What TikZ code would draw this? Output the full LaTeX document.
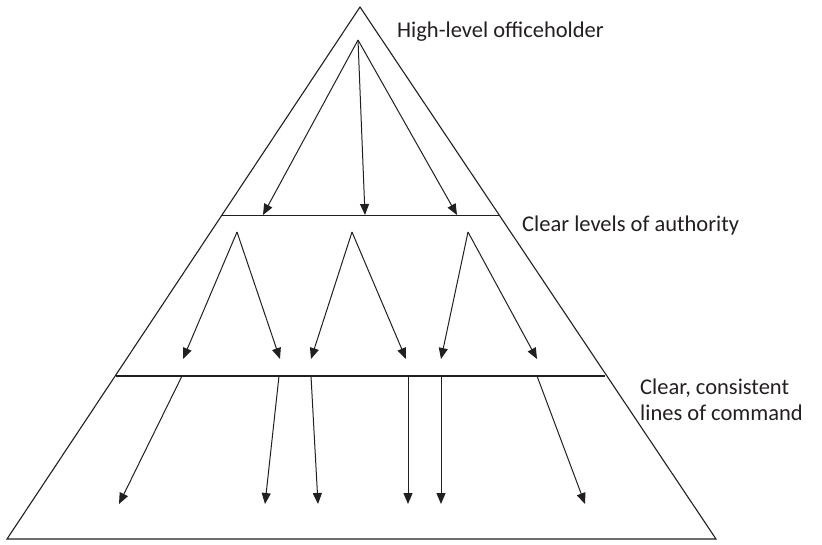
\documentclass[tikz,border=0pt]{standalone}
\usepackage{fontspec}
\setmainfont{Carlito}
\usetikzlibrary{arrows.meta}
\definecolor{ink}{HTML}{231F20}
\begin{document}
\begin{tikzpicture}[x=1pt,y=-1pt,
  edge/.style={draw=ink, line width=1.1pt},
  arr/.style={draw=ink, line width=1pt, -{Triangle[length=11pt,width=9pt]}},
  lbl/.style={anchor=west, font=\fontsize{22.5}{26.5}\selectfont, inner sep=0pt, text=ink, align=left}]
\useasboundingbox (0,0) rectangle (822,544);
% triangle
\coordinate (apex) at (360,7);
\coordinate (bl) at (7,539);
\coordinate (br) at (716,539);
\draw[edge, line join=miter] (apex) -- (bl) -- (br) -- cycle;
% level lines
\coordinate (l1a) at (221.5,215.5);
\coordinate (l1b) at (498.5,215.5);
\coordinate (l2a) at (115.5,376);
\coordinate (l2b) at (605,376);
\draw[edge] (l1a) -- (l1b);
\draw[edge] (l2a) -- (l2b);
% top fan
\coordinate (f0) at (358,40);
\coordinate (t1) at (263,215);
\coordinate (t2) at (365,215);
\coordinate (t3) at (457,215);
\draw[arr] (f0) -- (t1);
\draw[arr] (f0) -- (t2);
\draw[arr] (f0) -- (t3);
% middle fans
\coordinate (m1) at (237,232);
\coordinate (m2) at (352,232);
\coordinate (m3) at (468,232);
\coordinate (u1) at (183,359);
\coordinate (u2) at (280,359);
\coordinate (u3) at (311,359);
\coordinate (u4) at (406,359);
\coordinate (u5) at (441,359);
\coordinate (u6) at (537,359);
\draw[arr] (m1) -- (u1);
\draw[arr] (m1) -- (u2);
\draw[arr] (m2) -- (u3);
\draw[arr] (m2) -- (u4);
\draw[arr] (m3) -- (u5);
\draw[arr] (m3) -- (u6);
% bottom arrows
\coordinate (s1) at (182,376);
\coordinate (s2) at (279,376);
\coordinate (s3) at (311,376);
\coordinate (s4) at (408,376);
\coordinate (s5) at (441,376);
\coordinate (s6) at (537,376);
\coordinate (e1) at (119,504);
\coordinate (e2) at (265,504);
\coordinate (e3) at (318,504);
\coordinate (e4) at (408,504);
\coordinate (e5) at (441,504);
\coordinate (e6) at (585,504);
\draw[arr] (s1) -- (e1);
\draw[arr] (s2) -- (e2);
\draw[arr] (s3) -- (e3);
\draw[arr] (s4) -- (e4);
\draw[arr] (s5) -- (e5);
\draw[arr] (s6) -- (e6);
% labels
\node[lbl] (hl) at (397,32) {High-level officeholder};
\node[lbl] (cl) at (522,225) {Clear levels of authority};
\node[lbl] (cc) at (640,400) {Clear, consistent\\lines of command};
\end{tikzpicture}
\end{document}
